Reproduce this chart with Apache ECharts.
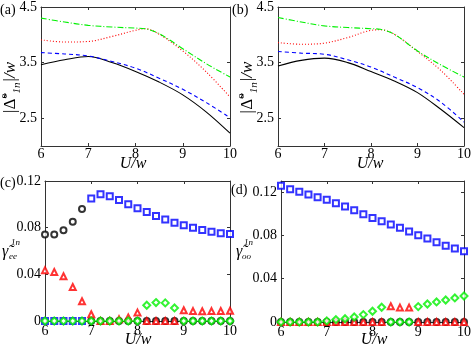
<!DOCTYPE html>
<html><head><meta charset="utf-8">
<script src="https://cdn.jsdelivr.net/npm/echarts@6/dist/echarts.min.js"></script>
<style>html,body{margin:0;padding:0;background:#fff}#c{width:474px;height:354px}</style>
</head><body><div id="c"></div>
<script>
// ---- Data ----
const uHalf = [6, 6.5, 7, 7.5, 8, 8.5, 9, 9.5, 10];
const uPeak = [6, 6.5, 7, 7.5, 8, 8.2, 8.5, 9, 9.5, 10];
// panel (a)
const aBlack = [3.46, 3.55, 3.61, 3.50, 3.34, 3.15, 2.92, 2.61, 2.23];
const aBlue  = [3.68, 3.655, 3.62, 3.52, 3.40, 3.22, 3.02, 2.78, 2.51];
const aRed   = [3.91, 3.87, 3.88, 3.97, 4.08, 4.11, 4.01, 3.71, 3.33, 2.88];
const aGreen = [4.30, 4.23, 4.17, 4.14, 4.12, 4.11, 4.02, 3.75, 3.48, 3.24];
// panel (b)
const bBlack = [3.44, 3.54, 3.58, 3.50, 3.34, 3.17, 2.96, 2.66, 2.33];
const bBlue  = [3.70, 3.67, 3.65, 3.55, 3.42, 3.24, 3.05, 2.79, 2.43];
const bRed   = [3.86, 3.83, 3.85, 3.95, 4.08, 4.09, 4.01, 3.70, 3.36, 2.93];
const bGreen = [4.31, 4.23, 4.16, 4.13, 4.11, 4.10, 4.01, 3.71, 3.46, 3.24];
// panels (c),(d): U = 6.0 ... 10.0 step 0.2
const uPts = [6, 6.2, 6.4, 6.6, 6.8, 7, 7.2, 7.4, 7.6, 7.8, 8, 8.2, 8.4, 8.6, 8.8, 9, 9.2, 9.4, 9.6, 9.8, 10];
const cBlack = [0.0742, 0.0742, 0.0777, 0.085, 0.096, 0, 0, 0, 0, 0, 0, 0, 0, 0, 0, 0, 0, 0, 0, 0, 0];
const cBlue  = [0, 0, 0, 0, 0, 0.105, 0.1086, 0.107, 0.1037, 0.100, 0.0966, 0.0934, 0.090, 0.0871, 0.0842, 0.082, 0.0799, 0.078, 0.0765, 0.0753, 0.0745];
const cRed   = [0.0436, 0.042, 0.0384, 0.0292, 0.0169, 0.0058, 0, 0, 0.0015, 0.003, 0.0072, 0, 0, 0, 0, 0.0092, 0.0085, 0.0083, 0.0085, 0.0086, 0.0088];
const cGreen = [0, 0, 0, 0, 0, 0, 0, 0, 0, 0, 0, 0.0135, 0.0158, 0.0155, 0.0112, 0, 0, 0, 0, 0, 0];
const dBlack = [0, 0, 0, 0, 0, 0, 0, 0, 0, 0, 0, 0, 0, 0, 0, 0, 0, 0, 0, 0, 0];
const dBlue  = [0.1256, 0.1225, 0.120, 0.1176, 0.1151, 0.1126, 0.1096, 0.1065, 0.1031, 0.0994, 0.096, 0.093, 0.0899, 0.0868, 0.0835, 0.080, 0.077, 0.0736, 0.0702, 0.0678, 0.0653];
const dRed   = [0, 0, 0, 0, 0, 0, 0, 0, 0, 0, 0, 0, 0.0145, 0.0133, 0.0133, 0, 0, 0, 0, 0, 0];
const dGreen = [0, 0, 0, 0, 0, 0.001, 0.0022, 0.003, 0.0046, 0.0068, 0.0099, 0.0136, 0, 0, 0, 0.0142, 0.0166, 0.0185, 0.0203, 0.0222, 0.024];
const xTicks = [6, 7, 8, 9, 10];
const yTicksAB = [2.5, 3.5, 4.5];
const yTicksCD = [0, 0.04, 0.08, 0.12];

// ---- Chart ----
const FONT = 'Liberation Serif';
const pair = (xs, ys) => xs.map((x, i) => [x, ys[i]]);
const grids = [
  {left: 41, top: 5, width: 189, height: 141},
  {left: 278, top: 5, width: 188, height: 141},
  {left: 45, top: 181, width: 185, height: 140},
  {left: 281, top: 181, width: 187, height: 141}
];
const xMargins = [1, 1, 3, 3];
const axisColor = '#333';
const xAxes = [], yAxes = [];
const yRanges = [[2, 4.5, yTicksAB], [2, 4.5, yTicksAB], [0, 0.12, yTicksCD], [0, 0.13, yTicksCD]];
const fmtY = v => (v === 0 ? '0' : (Math.abs(v) < 1 ? v.toFixed(2) : v.toFixed(1)));
grids.forEach((g, i) => {
  const base = {
    type: 'value', gridIndex: i, min: 6, max: 10,
    splitLine: {show: false},
    axisLine: {show: true, onZero: false, lineStyle: {color: axisColor, width: 1}},
    axisTick: {show: true, inside: true, length: 3, lineStyle: {color: axisColor}, customValues: xTicks},
  };
  xAxes.push(Object.assign({}, base, {position: 'bottom',
    axisLabel: {margin: xMargins[i], fontFamily: FONT, fontSize: 14, color: '#000', customValues: xTicks}}));
  xAxes.push(Object.assign({}, base, {position: 'top', axisLabel: {show: false}}));
  const [mn, mx, tk] = yRanges[i];
  const ybase = {
    type: 'value', gridIndex: i, min: mn, max: mx,
    splitLine: {show: false},
    axisLine: {show: true, onZero: false, lineStyle: {color: axisColor, width: 1}},
    axisTick: {show: true, inside: true, length: 3, lineStyle: {color: axisColor}, customValues: tk},
  };
  yAxes.push(Object.assign({}, ybase, {position: 'left',
    axisLabel: {margin: 4, fontFamily: FONT, fontSize: 14, color: '#000', customValues: tk, formatter: fmtY}}));
  yAxes.push(Object.assign({}, ybase, {position: 'right', axisLabel: {show: false}}));
});

function lineS(i, xs, ys, color, type) {
  return {type: 'line', xAxisIndex: 2 * i, yAxisIndex: 2 * i, data: pair(xs, ys),
    showSymbol: false, smooth: 0.35, animation: false,
    lineStyle: {color: color, width: 1.1, type: type}};
}
function scat(i, ys, color, symbol, size) {
  return {type: 'scatter', xAxisIndex: 2 * i, yAxisIndex: 2 * i, data: pair(uPts, ys),
    symbol: symbol, symbolSize: size, animation: false, clip: false,
    itemStyle: {color: color, borderColor: color, borderWidth: 0.8}};
}
const GREEN = '#00f000';
const series = [
  lineS(0, uHalf, aBlack, '#000', 'solid'),
  lineS(0, uHalf, aBlue, '#0000ff', [4, 3]),
  lineS(0, uPeak, aRed, '#ff0000', [1, 2]),
  lineS(0, uPeak, aGreen, GREEN, [6, 2, 1, 2]),
  lineS(1, uHalf, bBlack, '#000', 'solid'),
  lineS(1, uHalf, bBlue, '#0000ff', [4, 3]),
  lineS(1, uPeak, bRed, '#ff0000', [1, 2]),
  lineS(1, uPeak, bGreen, GREEN, [6, 2, 1, 2]),
  scat(2, cBlack, '#000', 'emptyCircle', 6),
  scat(2, cBlue, '#0000ff', 'emptyRect', 6),
  scat(2, cRed, '#ff0000', 'emptyTriangle', 6),
  scat(2, cGreen, GREEN, 'emptyDiamond', 7),
  scat(3, dBlack, '#000', 'emptyCircle', 6),
  scat(3, dBlue, '#0000ff', 'emptyRect', 6),
  scat(3, dRed, '#ff0000', 'emptyTriangle', 6),
  scat(3, dGreen, GREEN, 'emptyDiamond', 7)
];

const txt = (x, y, s, size, extra) => ({type: 'text', x: x, y: y, silent: true,
  style: Object.assign({text: s, fontFamily: FONT, fontSize: size, fill: '#000', textAlign: 'left', textVerticalAlign: 'middle'}, extra || {})});
const richY = sup => ({
  text: '{n||}{d|Δ\u0303}{sup|' + sup + '}{sub|1n}{n||/w}',
  fontFamily: FONT, fill: '#000', align: 'center', verticalAlign: 'middle',
  rich: {
    n: {fontSize: 17, fontStyle: 'italic', fontFamily: FONT, lineHeight: 24},
    d: {fontSize: 17, fontFamily: FONT, lineHeight: 24},
    sup: {fontSize: 11, fontFamily: FONT, verticalAlign: 'top', lineHeight: 24},
    sub: {fontSize: 11, fontStyle: 'italic', fontFamily: FONT, verticalAlign: 'bottom', lineHeight: 24}
  }
});
const graphic = [
  txt(0, 10, '(a)', 14),
  txt(232, 10, '(b)', 14),
  txt(0, 183, '(c)', 14),
  txt(231, 190, '(d)', 14),
  txt(133, 164, 'U/w', 16, {fontStyle: 'italic', textAlign: 'center'}),
  txt(370, 164, 'U/w', 16, {fontStyle: 'italic', textAlign: 'center'}),
  txt(138, 340, 'U/w', 16, {fontStyle: 'italic', textAlign: 'center'}),
  txt(374, 340, 'U/w', 16, {fontStyle: 'italic', textAlign: 'center'}),
  {type: 'text', x: 11, y: 88, rotation: Math.PI / 2, silent: true, style: richY('e')},
  {type: 'text', x: 248, y: 88, rotation: Math.PI / 2, silent: true, style: richY('o')},
  txt(2, 252, 'γ\u0303', 16, {fontStyle: 'italic'}),
  txt(11, 243, '1n', 9, {fontStyle: 'italic'}),
  txt(9, 257, 'ee', 9, {fontStyle: 'italic'}),
  txt(236, 252, 'γ\u0303', 16, {fontStyle: 'italic'}),
  txt(244, 243, '1n', 9, {fontStyle: 'italic'}),
  txt(242, 257, 'oo', 9, {fontStyle: 'italic'})
];

const chart = echarts.init(document.getElementById('c'), null, {renderer: 'canvas'});
chart.setOption({
  animation: false,
  backgroundColor: '#fff',
  grid: grids,
  xAxis: xAxes,
  yAxis: yAxes,
  series: series,
  graphic: graphic
});
</script></body></html>
